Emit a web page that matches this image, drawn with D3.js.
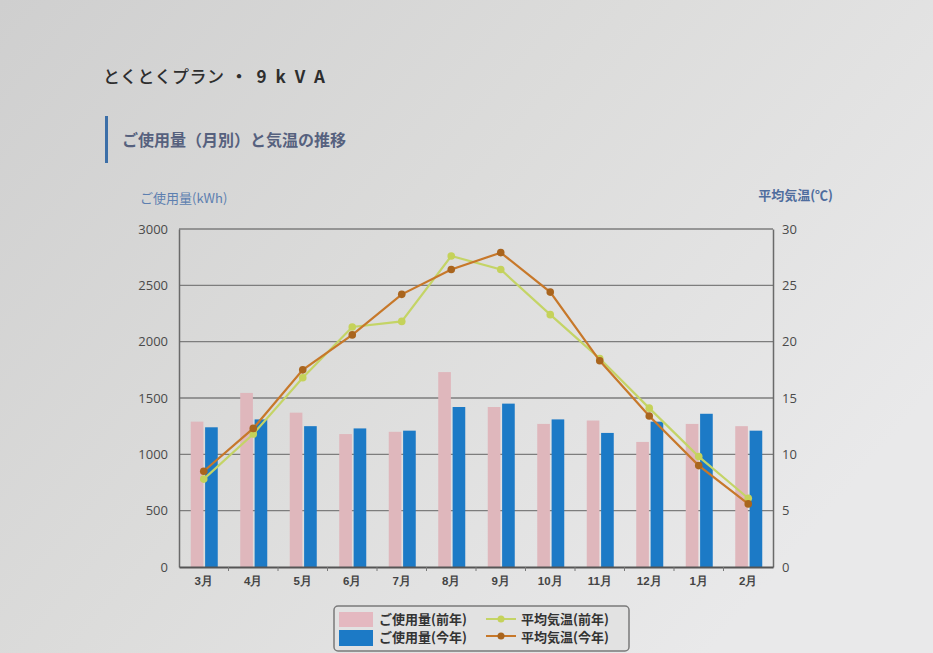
<!DOCTYPE html>
<html><head><meta charset="utf-8">
<script src="https://cdn.jsdelivr.net/npm/d3@7"></script>
<style>
html,body{margin:0;padding:0;}
body{width:933px;height:653px;overflow:hidden;font-family:"Noto Sans CJK JP","Noto Sans",sans-serif;}
</style></head><body>
<svg id="c" width="933" height="653"></svg>
<script>
const months = ["3月","4月","5月","6月","7月","8月","9月","10月","11月","12月","1月","2月"];
const usagePrev = [1290,1545,1370,1180,1200,1730,1420,1270,1300,1110,1270,1250];
const usageCurr = [1240,1310,1250,1230,1210,1420,1450,1310,1190,1290,1360,1210];
const tempPrev = [7.8,11.8,16.8,21.3,21.8,27.6,26.4,22.4,18.5,14.1,9.8,6.1];
const tempCurr = [8.5,12.3,17.5,20.6,24.2,26.4,27.9,24.4,18.3,13.4,9.0,5.6];
const usageTicks = [0,500,1000,1500,2000,2500,3000];
const tempTicks = [0,5,10,15,20,25,30];
const seriesNames = ["ご使用量(前年)","ご使用量(今年)","平均気温(前年)","平均気温(今年)"];

const svg = d3.select("#c");
const W=933,H=653;
const defs = svg.append("defs");
const bg = defs.append("linearGradient").attr("id","bg").attr("x1","0").attr("y1","0").attr("x2","1").attr("y2","0.6");
bg.append("stop").attr("offset","0").attr("stop-color","#cfcfcf");
bg.append("stop").attr("offset","0.5").attr("stop-color","#dcdcdb");
bg.append("stop").attr("offset","1").attr("stop-color","#e9e9ea");
svg.append("rect").attr("width",W).attr("height",H).attr("fill","url(#bg)");

const X0=179,X1=773,Y0=229,Y1=567;
const x = d3.scaleBand().domain(months).range([X0,X1]);
const xs = d3.scaleBand().domain(["p","c"]).range([0,27]).paddingInner(0.12);
const yL = d3.scaleLinear().domain([0,3000]).range([Y1,Y0]);
const yR = d3.scaleLinear().domain([0,30]).range([Y1,Y0]);

// titles
const t1 = svg.append("text").attr("x",103).attr("y",83).attr("font-size",17).attr("font-weight",500)
  .attr("fill","#2e2e2e");
t1.append("tspan").attr("letter-spacing",0.5).text("とくとくプラン");
t1.append("tspan").attr("dx",6).attr("letter-spacing",9).attr("font-weight",700).text("・9kVA");
svg.append("rect").attr("x",105).attr("y",116).attr("width",3).attr("height",47).attr("fill","#3c6fa8");
svg.append("text").attr("x",122).attr("y",146).attr("font-size",16).attr("font-weight",700)
  .attr("fill","#56617e").text("ご使用量（月別）と気温の推移");

svg.append("text").attr("x",140).attr("y",203).attr("font-size",13).attr("fill","#5d7fb0").text("ご使用量(kWh)");
svg.append("text").attr("x",833).attr("y",200).attr("font-size",13).attr("fill","#4f6d9e").attr("font-weight",700).attr("text-anchor","end").text("平均気温(℃)");

// grid
svg.append("g").selectAll("line").data(usageTicks.slice(1)).join("line")
  .attr("x1",X0).attr("x2",X1).attr("y1",d=>yL(d)).attr("y2",d=>yL(d))
  .attr("stroke","#7d7d7d").attr("stroke-width",1.3);

// axes
const gL = svg.append("g").attr("transform",`translate(${X0},0)`)
  .call(d3.axisLeft(yL).tickValues(usageTicks).tickFormat(d3.format("d")).tickSize(0).tickPadding(11));
gL.select(".domain").attr("stroke","#6a6a6a").attr("stroke-width",1.5);
gL.selectAll("text").attr("font-size",13).attr("fill","#4a4a4a").attr("font-family","'Open Sans',sans-serif");

const gR = svg.append("g").attr("transform",`translate(${X1},0)`)
  .call(d3.axisRight(yR).tickValues(tempTicks).tickFormat(d3.format("d")).tickSize(0).tickPadding(9));
gR.select(".domain").attr("stroke","#6a6a6a").attr("stroke-width",1.5);
gR.selectAll("text").attr("font-size",13).attr("fill","#4a4a4a").attr("font-family","'Open Sans',sans-serif");

// bars
const groups = svg.append("g").selectAll("g").data(months).join("g")
  .attr("transform",d=>`translate(${x(d)+x.bandwidth()/2-13},0)`);
groups.append("rect").attr("x",xs("p")).attr("width",xs.bandwidth())
  .attr("y",(d,i)=>yL(usagePrev[i])).attr("height",(d,i)=>yL(0)-yL(usagePrev[i])).attr("fill","#dfb7bc");
groups.append("rect").attr("x",xs("c")).attr("width",xs.bandwidth())
  .attr("y",(d,i)=>yL(usageCurr[i])).attr("height",(d,i)=>yL(0)-yL(usageCurr[i])).attr("fill","#1c7ac6");

// x axis
const gB = svg.append("g").attr("transform",`translate(0,${Y1})`)
  .call(d3.axisBottom(x).tickSize(0).tickPadding(10));
gB.select(".domain").attr("stroke","#555").attr("stroke-width",2);
gB.selectAll("text").attr("font-size",11.5).attr("font-weight",700).attr("fill","#444");
svg.append("g").selectAll("line").data(months.slice(1)).join("line")
  .attr("x1",d=>x(d)).attr("x2",d=>x(d)).attr("y1",Y1).attr("y2",Y1+4).attr("stroke","#777");

// lines
const line = d3.line().x((d,i)=>x(months[i])+x.bandwidth()/2).y(d=>yR(d));
function drawLine(data,stroke,dot){
  svg.append("path").datum(data).attr("d",line).attr("fill","none").attr("stroke",stroke).attr("stroke-width",2.2);
  svg.append("g").selectAll("circle").data(data).join("circle")
    .attr("cx",(d,i)=>x(months[i])+x.bandwidth()/2).attr("cy",d=>yR(d)).attr("r",3.8).attr("fill",dot);
}
drawLine(tempPrev,"#c4d466","#c5d25a");
drawLine(tempCurr,"#c7782a","#a9651e");

// legend
const lg = svg.append("g");
lg.append("rect").attr("x",334).attr("y",606).attr("width",295).attr("height",45).attr("rx",4)
  .attr("fill","#e2e2e2").attr("stroke","#7a7a7a").attr("stroke-width",1.5);
lg.append("rect").attr("x",339).attr("y",612).attr("width",34).attr("height",15).attr("fill","#e4b8c0");
lg.append("rect").attr("x",339).attr("y",630).attr("width",34).attr("height",16).attr("fill","#1c7ac6");
lg.append("text").attr("x",379).attr("y",624).attr("font-size",13).attr("font-weight",700).attr("fill","#333").text(seriesNames[0]);
lg.append("text").attr("x",379).attr("y",642).attr("font-size",13).attr("font-weight",700).attr("fill","#333").text(seriesNames[1]);
lg.append("line").attr("x1",486).attr("x2",516).attr("y1",619).attr("y2",619).attr("stroke","#c4d466").attr("stroke-width",2);
lg.append("circle").attr("cx",501).attr("cy",619).attr("r",3.5).attr("fill","#c5d25a");
lg.append("line").attr("x1",486).attr("x2",516).attr("y1",636).attr("y2",636).attr("stroke","#c7782a").attr("stroke-width",2);
lg.append("circle").attr("cx",501).attr("cy",636).attr("r",3.5).attr("fill","#a9651e");
lg.append("text").attr("x",521).attr("y",624).attr("font-size",13).attr("font-weight",700).attr("fill","#333").text(seriesNames[2]);
lg.append("text").attr("x",521).attr("y",642).attr("font-size",13).attr("font-weight",700).attr("fill","#333").text(seriesNames[3]);
</script>
</body></html>
